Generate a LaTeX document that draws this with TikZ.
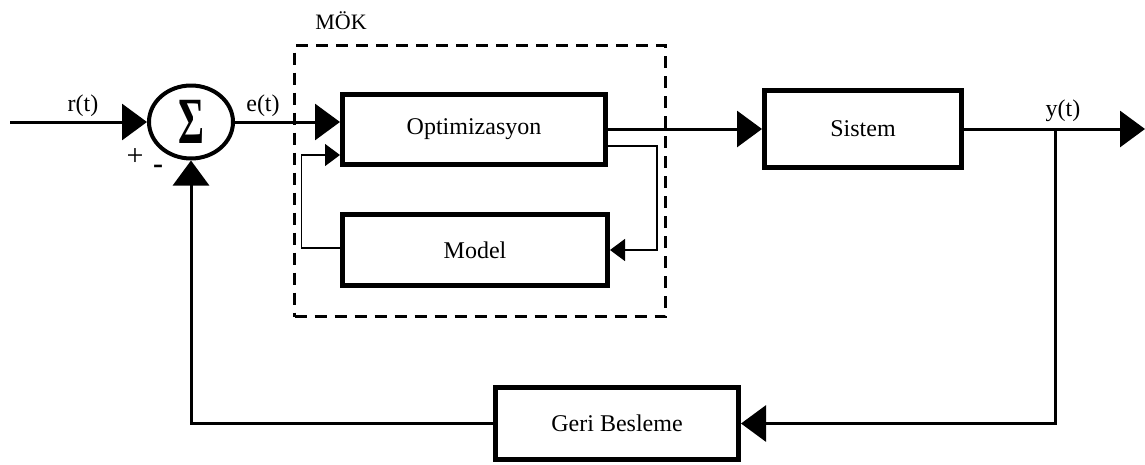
\documentclass[tikz,border=0pt]{standalone}
\usepackage{fontspec}
\usepackage{graphicx}
\setmainfont{Liberation Serif}
\usetikzlibrary{arrows.meta,calc,shapes.geometric}
\begin{document}
\begin{tikzpicture}[x=1pt,y=-1pt,
  txt/.style={font=\fontsize{24}{28}\selectfont, inner sep=0pt},
  blk/.style={draw, line width=5pt, inner sep=0pt, txt},
  sig/.style={line width=3pt},
  thinline/.style={line width=1.3pt},
  bigtip/.style={-{Triangle[length=25pt,width=36pt]}},
  smalltip/.style={-{Triangle[length=15pt,width=22pt]}},
  mokbox/.style={draw, line width=3pt, dash pattern=on 12pt off 8pt, inner sep=0pt}
]
\useasboundingbox (0,0) rectangle (1145,464);

% controller frame
\node[mokbox, minimum width=371, minimum height=271] (mok) at (480,181) {};
\node[txt, font=\fontsize{22}{26}\selectfont] (mokl) at (341,21) {MÖK};

% blocks
\node[blk, minimum width=263, minimum height=70] (opt) at (474,129.5) {Optimizasyon};
\node[blk, minimum width=265, minimum height=71] (model) at (475,250) {Model};
\node[blk, minimum width=197, minimum height=77] (sis) at (863,129) {Sistem};
\node[blk, minimum width=243, minimum height=72] (geri) at (617,423.5) {Geri Besleme};
\node[draw, ellipse, line width=4pt, minimum width=84, minimum height=73, inner sep=0pt] (sum) at (191,122)
  {\scalebox{0.6}[1]{\fontsize{66}{66}\selectfont\bfseries Σ}};

% signal labels
\node[txt] (lr) at (83,106) {r(t)};
\node[txt] (le) at (263,106) {e(t)};
\node[txt] (ly) at (1063,111) {y(t)};
\node[txt, font=\fontsize{30}{30}\selectfont] (lplus) at (135,157) {+};
\node[txt, font=\fontsize{30}{30}\selectfont\bfseries] (lminus) at (158,169) {-};

% main path
\coordinate (in) at (10,122);
\coordinate (out) at (1145,129);
\coordinate (br) at (1055,129);
\draw[sig,bigtip] (in) -- (sum.west);
\draw[sig,bigtip] (sum.east) -- (sum.east -| opt.west);
\draw[sig,bigtip] (opt.east |- sis.west) -- (sis.west);
\draw[sig,bigtip] (sis.east) -- (out);

% feedback
\draw[sig,bigtip] (br) |- (geri.east);
\draw[sig,bigtip] (geri.west) -| (sum.south);

% inner loop between optimiser and model
\draw[thinline,smalltip] ($(opt.south east)+(0,-21)$) -| ($(model.east)+(47,0)$) -- (model.east);
\draw[thinline,smalltip] ($(model.west)+(0,-2)$) -| ($(opt.west)+(-38.5,25.5)$) -- ($(opt.west)+(0,25.5)$);
\end{tikzpicture}
\end{document}
